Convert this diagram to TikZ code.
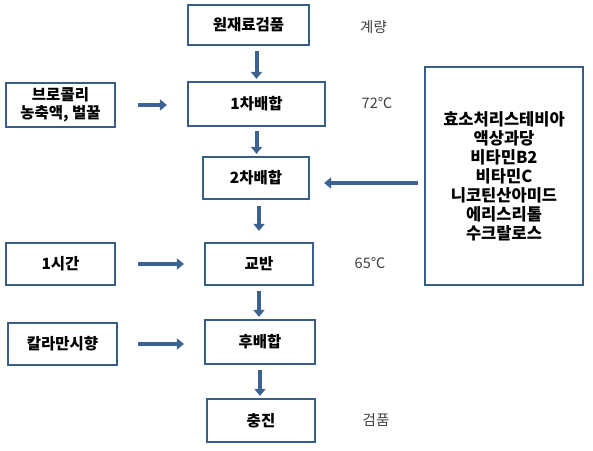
\documentclass[tikz,border=0pt]{standalone}
\usepackage{fontspec}
\setmainfont{Noto Sans CJK KR}
\usepackage{tikz}
\usetikzlibrary{calc,arrows.meta}
\definecolor{boxblue}{RGB}{56,93,138}
\definecolor{arrblue}{RGB}{60,98,145}

\begin{document}
\begin{tikzpicture}[x=1pt,y=-1pt,
  box/.style={draw=boxblue,line width=2.2pt,inner sep=0pt,align=center,
    font=\fontsize{15.5}{18}\selectfont\bfseries},
  note/.style={text=black!75,font=\fontsize{14.5}{18}\selectfont},
  flow/.style={draw=arrblue,line width=4pt,-{Triangle[width=11pt,length=7pt]},
    shorten <=5pt,shorten >=2pt}]
  \useasboundingbox (0,0) rectangle (593,450);
  % main line
  \node[box,minimum width=121pt,minimum height=40pt] (raw) at (248.5,25) {원재료검품};
  \node[box,minimum width=137pt,minimum height=44pt] (mix1) at (256.5,104) {1차배합};
  \node[box,minimum width=106pt,minimum height=42pt] (mix2) at (256,178) {2차배합};
  \node[box,minimum width=108pt,minimum height=42pt] (stir) at (259,264) {교반};
  \node[box,minimum width=110pt,minimum height=44pt] (post) at (260,342) {후배합};
  \node[box,minimum width=108pt,minimum height=43pt] (fill) at (261,420.5) {충진};
  % inputs
  \node[box,minimum width=109pt,minimum height=44pt] (src1) at (60.5,105) {브로콜리\\농축액, 벌꿀};
  \node[box,minimum width=109pt,minimum height=42pt] (src2) at (60.5,264) {1시간};
  \node[box,minimum width=109pt,minimum height=42pt] (src3) at (62.5,344) {칼라만시향};
  \node[box,minimum width=158pt,minimum height=218pt,
    font=\fontsize{16.5}{19}\selectfont\bfseries] (add) at (504,176)
    {효소처리스테비아\\액상과당\\비타민B2\\비타민C\\니코틴산아미드\\에리스리톨\\수크랄로스};
  % side notes
  \node[note] (n1) at (373.5,27) {계량};
  \node[note] (n2) at (377,103) {72℃};
  \node[note] (n3) at (370,263) {65℃};
  \node[note] (n4) at (376,420) {검품};
  % arrows
  \draw[flow] (mix1.north |- raw.south) -- (mix1.north);
  \draw[flow,shorten <=4pt] (mix1.south) -- (mix1.south |- mix2.north);
  \draw[flow,shorten <=6pt,shorten >=11pt] (stir.north |- mix2.south) -- (stir.north);
  \draw[flow] (stir.south) -- (stir.south |- post.north);
  \draw[flow] (post.south) -- (post.south |- fill.north);
  \draw[flow,shorten <=22pt,shorten >=20pt] (src1.east) -- (src1.east -| mix1.west);
  \draw[flow,shorten <=22pt,shorten >=20pt] (src2.east) -- (src2.east -| stir.west);
  \draw[flow,shorten <=20pt,shorten >=20pt] (src3.east) -- (src3.east -| post.west);
  \draw[flow,shorten <=6pt,shorten >=14pt] (add.west |- 0,183) -- (mix2.east |- 0,183);
\end{tikzpicture}
\end{document}
